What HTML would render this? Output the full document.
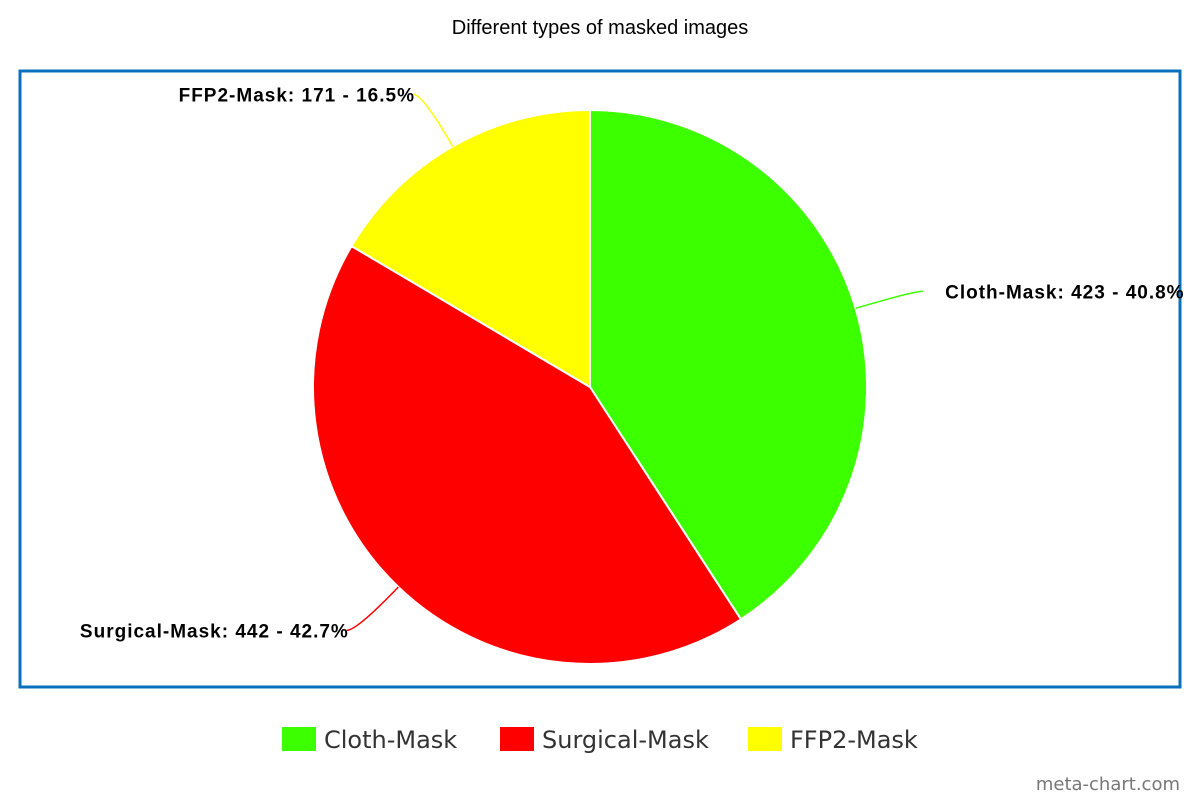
<!DOCTYPE html>
<html><head><meta charset="utf-8"><style>
body{margin:0;background:#fff;width:1200px;height:800px;overflow:hidden;font-family:"Liberation Sans",sans-serif}
</style></head><body>
<svg width="1200" height="800">
<text x="600" y="34" text-anchor="middle" font-size="20" fill="#000">Different types of masked images</text>
<rect x="20" y="71" width="1160" height="616" fill="none" stroke="#0a70bc" stroke-width="3"/>
<g id="slices"></g>
<g id="labels"></g>
<g id="legend"></g>
<text x="1180" y="790" text-anchor="end" font-size="18" fill="#777" font-family="DejaVu Sans, sans-serif">meta-chart.com</text>
</svg>
<script>
const categories=["Cloth-Mask","Surgical-Mask","FFP2-Mask"];
const values=[423,442,171];
const colors=["#3cff00","#ff0000","#ffff00"];
const NS="http://www.w3.org/2000/svg";
const cx=590,cy=387,r=277;
const total=values.reduce((a,b)=>a+b,0);
const slices=document.getElementById('slices'),labels=document.getElementById('labels'),legend=document.getElementById('legend');
function pt(a,rr){return [cx+rr*Math.sin(a),cy-rr*Math.cos(a)];}
let a0=0;
values.forEach((v,i)=>{
  const a1=a0+v/total*2*Math.PI;
  const p0=pt(a0,r),p1=pt(a1,r);
  const large=(a1-a0)>Math.PI?1:0;
  const path=document.createElementNS(NS,'path');
  path.setAttribute('d',`M${cx},${cy}L${p0[0]},${p0[1]}A${r},${r} 0 ${large} 1 ${p1[0]},${p1[1]}Z`);
  path.setAttribute('fill',colors[i]);path.setAttribute('stroke','#fff');path.setAttribute('stroke-width','2');
  
  
  slices.appendChild(path);
  const am=(a0+a1)/2;
  const s=pt(am,r),e=pt(am,r+60);
  const right=Math.sin(am)>=0;
  const ex=e[0]+(right?10:-10), ey=e[1];
  const line=document.createElementNS(NS,'path');
  line.setAttribute('d',`M${s[0]},${s[1]}Q${e[0]},${e[1]} ${ex},${ey}`);
  line.setAttribute('fill','none');line.setAttribute('stroke',colors[i]);line.setAttribute('stroke-width','1.5');
  
  
  labels.appendChild(line);
  const t=document.createElementNS(NS,'text');
  t.setAttribute('x',right?ex+22:ex+2);t.setAttribute('y',ey+7);
  t.setAttribute('text-anchor',right?'start':'end');
  t.setAttribute('font-size','19');t.setAttribute('font-weight','bold');t.setAttribute('letter-spacing','1');
  t.textContent=`${categories[i]}: ${v} - ${(v/total*100).toFixed(1)}%`;
  
  
  labels.appendChild(t);
  a0=a1;
});
const lx=[282,500,748];
categories.forEach((c,i)=>{
  const g=document.createElementNS(NS,'g');
  
  
  const rc=document.createElementNS(NS,'rect');
  rc.setAttribute('x',lx[i]);rc.setAttribute('y',727);rc.setAttribute('width',34);rc.setAttribute('height',24);rc.setAttribute('fill',colors[i]);
  g.appendChild(rc);
  const t=document.createElementNS(NS,'text');
  t.setAttribute('x',lx[i]+42);t.setAttribute('y',748);t.setAttribute('font-size','24');t.setAttribute('fill','#333');
  t.setAttribute('font-family','DejaVu Sans, sans-serif');
  t.textContent=c;
  g.appendChild(t);
  legend.appendChild(g);
});
</script>
</body></html>
